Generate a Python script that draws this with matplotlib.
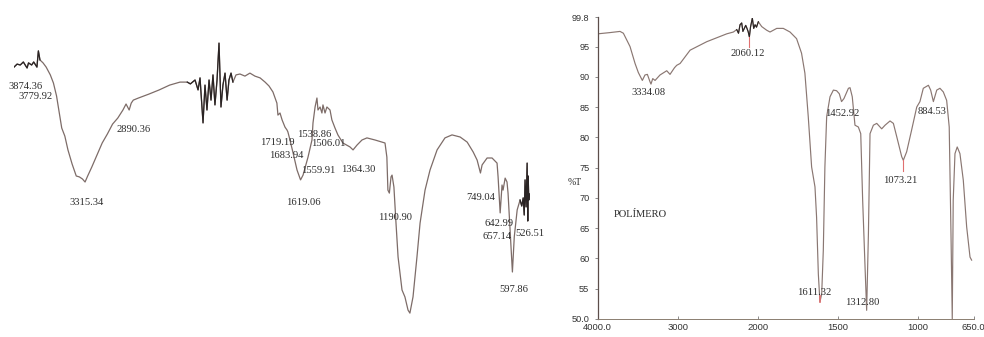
import numpy as np
import matplotlib
matplotlib.use("Agg")
import matplotlib.pyplot as plt

# ---------------- data: left spectrum (arbitrary %T, no axes shown) ----------------
left_wn = [4000, 3970, 3940, 3910, 3874, 3860, 3830, 3810, 3779, 3765, 3750, 3720, 3690,
           3650, 3620, 3590, 3560, 3540, 3510, 3480, 3440, 3400, 3370, 3340, 3315, 3290,
           3250, 3200, 3150, 3100, 3050, 3000, 2950, 2920, 2890, 2870, 2850, 2800, 2700,
           2600, 2500, 2400, 2330, 2300, 2255, 2226, 2207, 2178, 2159, 2140, 2120, 2101,
           2082, 2063, 2043, 2024, 2005, 1993, 1983, 1973, 1964, 1954, 1945, 1930, 1911,
           1887, 1863, 1839, 1814, 1790, 1771, 1752, 1733, 1728, 1718, 1708, 1694, 1684,
           1680, 1670, 1655, 1636, 1619, 1607, 1583, 1564, 1559, 1549, 1540, 1535, 1525,
           1516, 1511, 1501, 1492, 1477, 1468, 1453, 1439, 1415, 1381, 1366, 1347, 1323,
           1299, 1260, 1227, 1212, 1203, 1198, 1191, 1183, 1178, 1169, 1159, 1149, 1130,
           1116, 1101, 1092, 1077, 1058, 1043, 1019, 995, 961, 923, 889, 850, 816, 787,
           768, 752, 744, 720, 696, 672, 667, 657, 648, 643, 633, 624, 619, 609, 598, 589,
           575, 561, 553, 546, 541, 537, 532, 527, 524, 522, 519, 517]
left_T = [84.3, 85.3, 85.0, 86.0, 84.0, 85.7, 85.0, 86.0, 84.3, 89.7, 86.7, 85.7, 84.3,
          81.7, 79.0, 74.7, 68.3, 64.0, 61.3, 56.7, 52.0, 48.0, 47.7, 47.0, 46.0, 48.0,
          51.0, 55.0, 59.0, 62.0, 65.3, 67.3, 70.0, 72.0, 70.0, 72.3, 73.3, 74.0, 75.3,
          76.7, 78.3, 79.3, 79.3, 78.7, 80.0, 76.7, 80.7, 65.7, 78.3, 70.0, 80.0, 73.3,
          81.7, 71.7, 80.0, 92.3, 71.0, 78.3, 82.3, 73.3, 80.0, 82.3, 79.3, 81.7, 82.0,
          81.3, 82.3, 81.3, 80.7, 79.3, 78.0, 76.0, 72.3, 68.3, 69.0, 66.7, 64.3, 63.3,
          62.7, 60.0, 55.7, 50.0, 46.7, 48.3, 54.3, 60.0, 65.7, 71.0, 74.0, 70.0, 71.0,
          69.0, 71.7, 69.0, 71.0, 70.0, 66.7, 64.0, 61.7, 59.0, 57.7, 56.7, 58.3, 60.0,
          60.7, 60.0, 59.3, 59.0, 54.3, 43.3, 42.3, 47.7, 48.3, 44.3, 32.3, 21.0, 10.0,
          7.7, 3.3, 2.3, 7.7, 21.0, 32.3, 43.3, 50.0, 56.7, 60.7, 61.7, 61.0, 59.3, 56.0,
          53.3, 49.0, 51.7, 54.0, 54.0, 52.3, 47.7, 35.7, 45.0, 43.3, 47.3, 46.0, 42.3,
          30.0, 16.0, 27.7, 36.7, 40.0, 38.0, 40.7, 35.0, 46.7, 37.7, 52.3, 33.0, 48.0,
          40.0, 42.0]

left_labels = ["3874.36", "3779.92", "3315.34", "2890.36", "1719.19", "1683.94", "1538.86",
               "1506.01", "1559.91", "1364.30", "1619.06", "1190.90", "749.04", "642.99",
               "657.14", "526.51", "597.86"]
left_label_wn = [3889, 3788, 3296, 2843, 1730, 1689, 1554, 1487, 1533, 1342, 1605, 1164,
                 753, 663, 672, 512, 590]
left_label_T = [77.7, 74.4, 39.1, 63.6, 59.1, 54.7, 61.9, 58.9, 49.8, 50.0, 39.1, 34.2,
                40.9, 32.2, 27.8, 29.0, 10.0]

# ---------------- data: right spectrum (%T) ----------------
right_wn = [4000, 3850, 3721, 3679, 3596, 3533, 3492, 3442, 3409, 3379, 3347, 3334, 3312,
            3283, 3221, 3137, 3096, 3040, 3012, 2970, 2845, 2637, 2387, 2304, 2262, 2240,
            2221, 2200, 2185, 2171, 2150, 2137, 2120, 2104, 2090, 2067, 2050, 2033, 2015,
            1996, 1975, 1944, 1923, 1881, 1840, 1798, 1757, 1726, 1705, 1684, 1663, 1642,
            1632, 1621, 1611, 1600, 1590, 1580, 1569, 1548, 1527, 1507, 1490, 1476, 1461,
            1433, 1423, 1409, 1392, 1371, 1356, 1344, 1329, 1319, 1308, 1298, 1277, 1256,
            1225, 1204, 1173, 1152, 1131, 1100, 1090, 1069, 1038, 1006, 986, 965, 933, 919,
            902, 881, 861, 840, 819, 803, 792, 784, 778, 767, 753, 736, 715, 694, 673, 663]
right_T = [97.1, 97.3, 97.5, 97.2, 95.0, 92.2, 90.7, 89.4, 90.3, 90.4, 89.2, 88.8, 89.7,
           89.4, 90.3, 91.0, 90.4, 91.5, 91.9, 92.2, 94.4, 95.8, 97.1, 97.4, 97.8, 97.2,
           98.6, 98.9, 97.5, 97.9, 98.5, 98.1, 97.5, 96.6, 98.2, 99.7, 98.0, 98.6, 98.2,
           99.1, 98.3, 97.7, 97.4, 98.0, 98.0, 97.4, 96.3, 93.9, 90.6, 83.4, 75.1, 71.8,
           66.8, 57.4, 52.8, 54.1, 61.3, 75.1, 83.4, 86.7, 87.8, 87.7, 87.2, 85.9, 86.4,
           88.1, 88.2, 86.7, 82.0, 81.7, 80.6, 69.6, 58.5, 51.4, 64.1, 80.6, 82.0, 82.3,
           81.4, 82.0, 82.7, 82.3, 80.1, 76.8, 76.2, 77.6, 81.2, 85.0, 85.9, 88.1, 88.6, 87.8,
           85.9, 87.8, 88.1, 87.5, 86.1, 81.7, 64.1, 50.0, 69.6, 77.3, 78.4, 77.3, 72.9, 65.2,
           60.2, 59.7]

right_labels = ["3334.08", "2060.12", "1452.92", "884.53", "1073.21", "1611.32", "1312.80"]
right_label_wn = [3371, 2121, 1473, 911, 1111, 1648, 1348]
right_label_T = [87.4, 93.9, 84.0, 84.2, 72.8, 54.3, 52.7]

y_ticks = [50, 55, 60, 65, 70, 75, 80, 85, 90, 95, 99.8]
y_tick_labels = ["50.0", "55", "60", "65", "70", "75", "80", "85", "90", "95", "99.8"]
x_ticks = [4000, 3000, 2000, 1500, 1000, 650]
x_tick_labels = ["4000.0", "3000", "2000", "1500", "1000", "650.0"]


def fwd(w):
    w = np.asarray(w, dtype=float)
    return np.where(w > 2000, 2000 + (w - 2000) / 2.0, w)


def inv(t):
    t = np.asarray(t, dtype=float)
    return np.where(t > 2000, 2000 + (t - 2000) * 2.0, t)


W, H = 984, 337
fig = plt.figure(figsize=(W / 100, H / 100), dpi=100)
fig.patch.set_facecolor("white")

serif = ["Liberation Serif", "DejaVu Serif"]
sans = ["Liberation Sans", "DejaVu Sans"]
line_col = "#7d6c68"
noise_col = "#2a2424"

# ---------------- left panel ----------------
axL = fig.add_axes([14 / W, (H - 320) / H, 526 / W, 300 / H])
axL.set_xscale("function", functions=(fwd, inv))
axL.set_xlim(4000, 465)
axL.set_ylim(0, 100)
axL.axis("off")
lw = np.array(left_wn, dtype=float)
lt = np.array(left_T, dtype=float)
axL.plot(lw, lt, color=line_col, lw=0.9)
for lo, hi in [(3740, 4001), (1935, 2335), (510, 565)]:
    m = (lw >= lo) & (lw <= hi)
    axL.plot(lw[m], lt[m], color=noise_col, lw=0.9)
for s, x, y in zip(left_labels, left_label_wn, left_label_T):
    axL.text(x, y, s, fontsize=7.6, family=serif, color="#2b2b2b",
             ha="center", va="center", clip_on=False)

# ---------------- right panel ----------------
axR = fig.add_axes([597.7 / W, (H - 318.8) / H, 376 / W, 301.3 / H])
axR.set_xscale("function", functions=(fwd, inv))
axR.set_xlim(4000, 650)
axR.set_ylim(50, 99.8)
rw = np.array(right_wn, dtype=float)
rt = np.array(right_T, dtype=float)
axR.plot(rw, rt, color="#8a7772", lw=0.85)
m = (rw <= 2270) & (rw >= 1990)
axR.plot(rw[m], rt[m], color=noise_col, lw=0.8)
# peak marker ticks
axR.plot([2104, 2104], [96.6, 95.0], color="#e07070", lw=0.8)
axR.plot([1611, 1611], [52.8, 53.8], color="#e07070", lw=1.2)
axR.plot([1090, 1090], [76.2, 74.4], color="#e07070", lw=0.8)

for s, x, y in zip(right_labels, right_label_wn, right_label_T):
    axR.text(x, y, s, fontsize=7.6, family=serif, color="#2b2b2b",
             ha="center", va="center")
axR.text(3797, 67.3, "POLÍMERO", fontsize=7.6, family=serif, color="#2b2b2b",
         ha="left", va="center")
axR.text(-0.062, 72.6, "%T", transform=axR.get_yaxis_transform(), fontsize=7,
         family=serif, color="#2b2b2b", ha="center", va="center")

axR.set_yticks(y_ticks)
axR.set_yticklabels(y_tick_labels)
axR.set_xticks(x_ticks)
axR.set_xticklabels(x_tick_labels)
axR.xaxis.set_minor_locator(matplotlib.ticker.NullLocator())
axR.yaxis.set_minor_locator(matplotlib.ticker.NullLocator())
for lab in axR.get_xticklabels() + axR.get_yticklabels():
    lab.set_family(sans)
    lab.set_color("#333333")
axR.tick_params(axis="y", direction="out", length=2, width=0.6, pad=4,
                labelsize=6.6, color="#777777")
axR.tick_params(axis="x", direction="in", length=2, width=0.6, pad=3,
                labelsize=6.8, color="#777777")
for side in ["top", "right"]:
    axR.spines[side].set_visible(False)
axR.spines["left"].set_color("#5c4e4a")
axR.spines["bottom"].set_color("#8a7d70")
axR.spines["left"].set_linewidth(0.9)
axR.spines["bottom"].set_linewidth(0.7)
axR.set_facecolor("none")

fig.savefig("out.png", dpi=100, facecolor="white")
